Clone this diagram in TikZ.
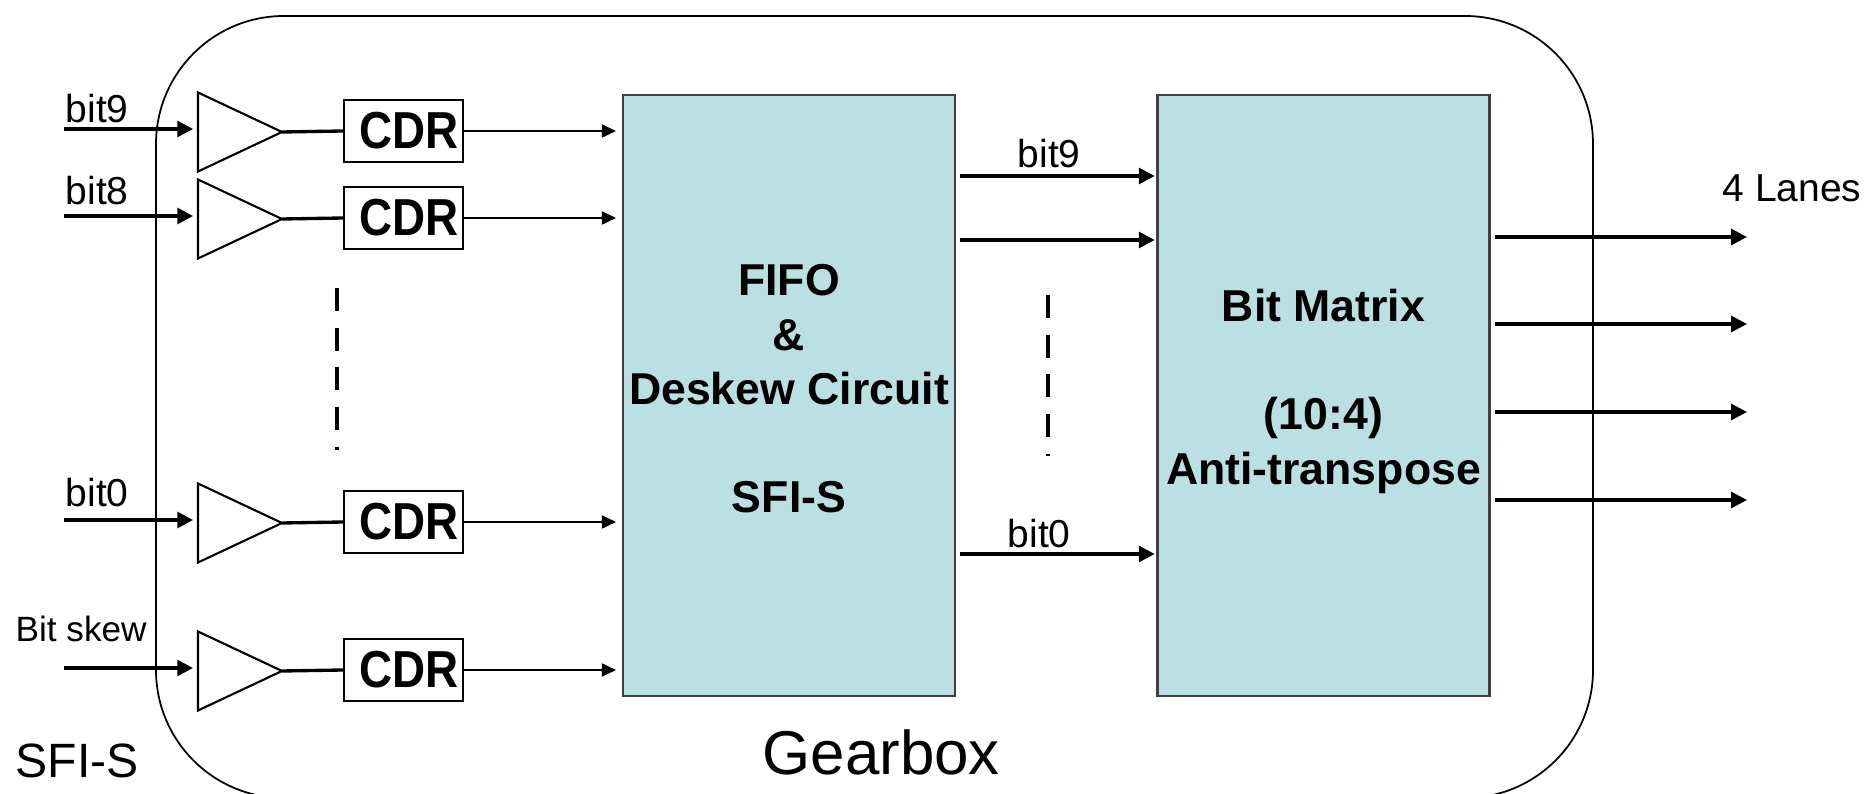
\documentclass[tikz,border=0pt]{standalone}
\usepackage{fontspec}
\setmainfont{Liberation Sans}
\newfontfamily\cdrfont[FakeStretch=0.88]{Liberation Sans}
\usetikzlibrary{arrows.meta}
\definecolor{boxblue}{RGB}{187,224,227}

\begin{document}
\begin{tikzpicture}[x=0.1mm, y=-0.1mm,
    sig/.style={-{Triangle[length=4.5pt,width=4.5pt]}, line width=0.95pt},
    thinsig/.style={-{Triangle[length=4pt,width=3.7pt]}, line width=0.55pt},
    wire/.style={line width=0.95pt},
    cdr/.style={draw, line width=0.6pt, minimum width=11.9mm, minimum height=6.2mm, inner sep=0pt, font=\fontsize{14.8pt}{16pt}\cdrfont\bfseries},
    block/.style={draw=black!75, line width=0.6pt, fill=boxblue, minimum width=33.2mm, minimum height=60.1mm, inner sep=0pt},
    blocktext/.style={align=center, inner sep=0pt, font=\fontsize{12.7pt}{15.4pt}\selectfont\bfseries},
    lbl/.style={font=\fontsize{11.1pt}{13pt}\selectfont, inner sep=0pt, anchor=base west},
    dots/.style={line width=1.2pt, dash pattern=on 6.5pt off 4.8pt}]

    % Frame
    \useasboundingbox (0,0) rectangle (1868,794);
    \clip (0,0) rectangle (1868,794);
    \draw[line width=0.5pt, rounded corners=12.8mm] (156,16) rectangle (1593,798);

    % Main blocks
    \node[block] (fifo) at (789,395.5) {};
    \node[blocktext] (fifotxt) at ([yshift=1.9pt]fifo.center) {FIFO\\\&\\Deskew Circuit\\[15.4pt]SFI-S};
    \node[block] (mat) at (1323.5,395.5) {};
    \node[blocktext] (mattxt) at ([yshift=1.2pt]mat.center) {Bit Matrix\\[15.4pt](10:4)\\Anti-transpose};

    % Buffers and CDR rows
    \foreach \n/\y in {9/132, 8/219, 0/523, s/671} {
        \coordinate (bin\n) at (198,\y);
        \coordinate (bout\n) at (282,\y);
        \draw[line width=0.6pt] (198,\y-39.5) -- (bout\n) -- (198,\y+39.5) -- cycle;
        \node[cdr] (cdr\n) at (403.5,\y-1) {\hspace{3.2pt}CDR};
        \coordinate (in\n) at (64,\y-3);
        \draw[sig, shorten >=1.4pt] (in\n) -- (in\n -| bin\n);
        \draw[wire] (bout\n) -- (cdr\n.west);
        \draw[thinsig, shorten >=1.7pt] (cdr\n.east) -- (cdr\n.east -| fifo.west);
    }

    % Input labels
    \node[lbl] (l9) at (65,123) {bit9};
    \node[lbl] (l8) at (65,205) {bit8};
    \node[lbl] (l0) at (65,507) {bit0};
    \node[lbl, font=\fontsize{10pt}{12pt}\selectfont] (lskew) at (15,642) {Bit skew};

    % Dashed gaps
    \draw[dots] (337,288) -- (337,450);
    \draw[dots] (1048,295) -- (1048,456);

    % FIFO to matrix
    \foreach \n/\y in {9/176, 8/240, 0/554} {
        \coordinate (mid\n) at (1000,\y);
        \draw[sig, shorten <=1.2pt, shorten >=0.5pt] (fifo.east |- mid\n) -- (mat.west |- mid\n);
    }
    \node[lbl] (m9) at (1017,168) {bit9};
    \node[lbl] (m0) at (1007,548) {bit0};

    % Output lanes
    \foreach \k/\y in {1/237, 2/324, 3/412, 4/500} {
        \coordinate (lane\k) at (1747,\y);
        \draw[sig, shorten <=1.4pt] (mat.east |- lane\k) -- (lane\k);
    }
    \node[lbl] (lanes) at (1722,202) {4 Lanes};

    \node[lbl, font=\fontsize{13.7pt}{16pt}\selectfont] (sfis) at (15,778) {SFI-S};
    \node[lbl, font=\fontsize{17.6pt}{20pt}\selectfont] (gearbox) at (762,775) {Gearbox};

\end{tikzpicture}
\end{document}
